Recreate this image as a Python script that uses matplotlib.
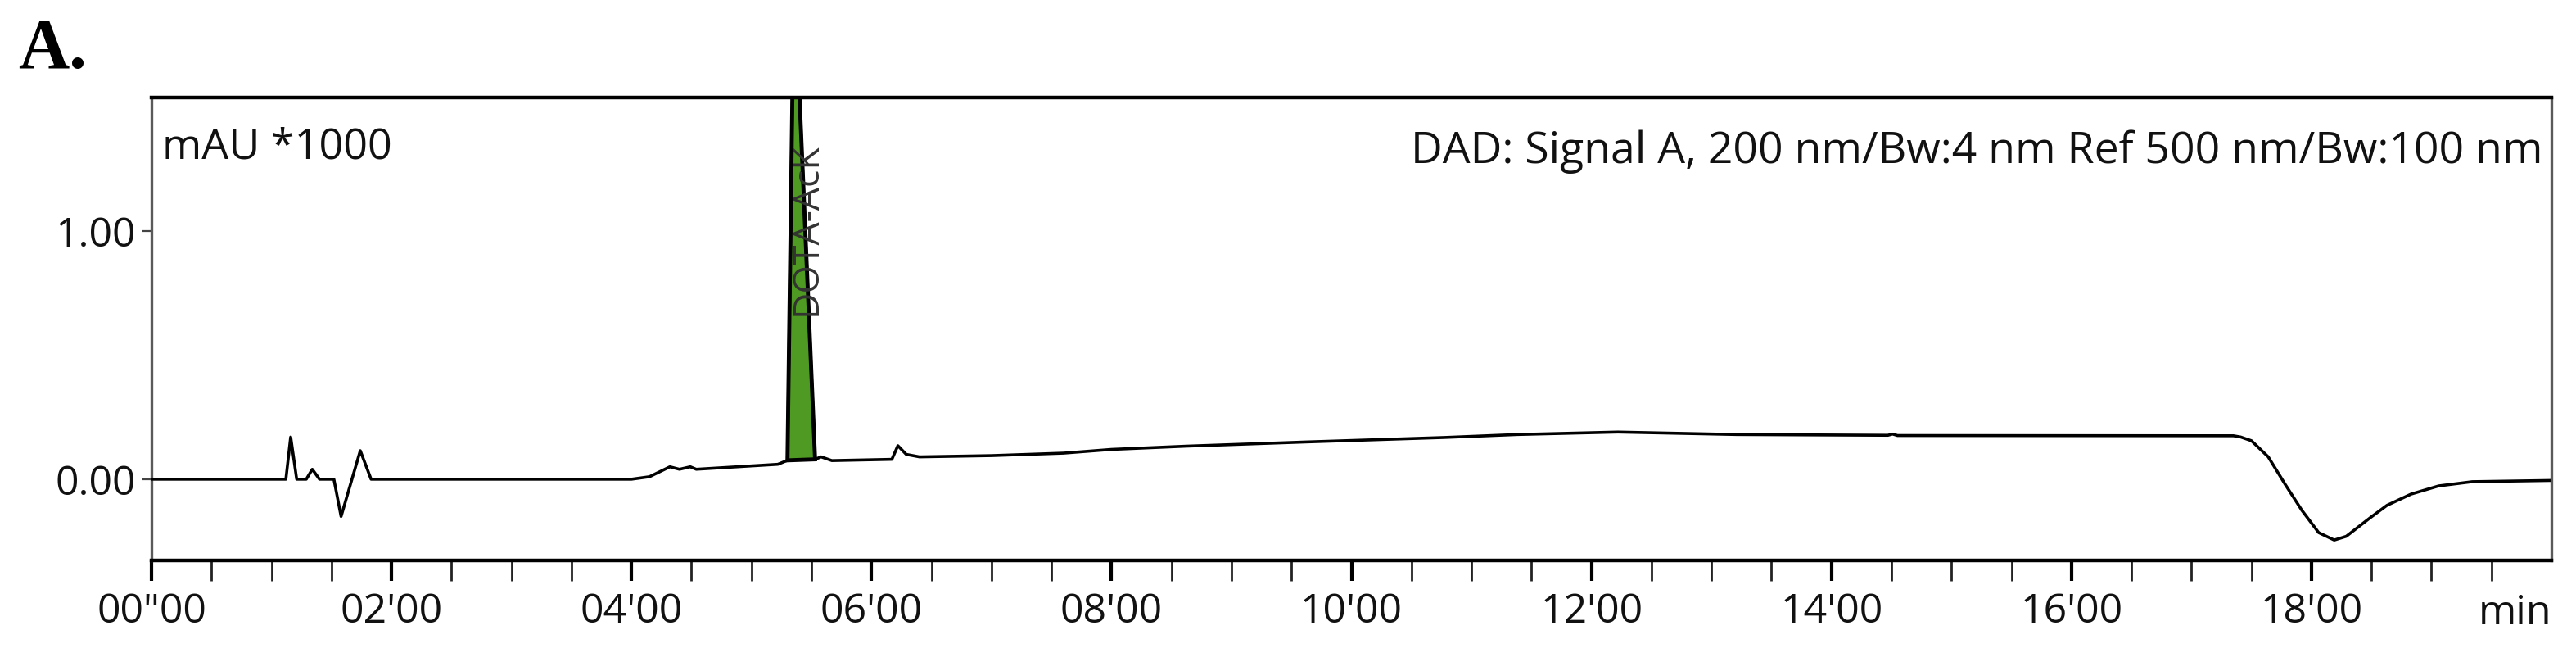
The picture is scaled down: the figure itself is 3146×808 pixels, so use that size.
import matplotlib
matplotlib.use("Agg")
import matplotlib.pyplot as plt
import matplotlib.transforms as mtransforms

# ---- data ----
time_min = [0.0, 1.12, 1.16, 1.21, 1.29, 1.34, 1.40, 1.52, 1.58, 1.74, 1.83,
            4.00, 4.15, 4.32, 4.40, 4.49, 4.54, 5.22, 5.30, 5.355, 5.53, 5.58,
            5.67, 6.17, 6.22, 6.29, 6.40, 7.00, 7.60, 8.00, 8.62, 9.62, 10.77, 11.38,
            12.22, 13.21, 14.47, 14.51, 14.55, 17.35, 17.41, 17.50, 17.64, 17.78,
            17.92, 18.06, 18.19, 18.29, 18.49, 18.63, 18.83, 19.06, 19.34, 20.0]
signal_mau_k = [0.0, 0.0, 0.17, 0.0, 0.0, 0.04, 0.0, 0.0, -0.15, 0.115, 0.0,
                0.0, 0.01, 0.05, 0.04, 0.05, 0.04, 0.06, 0.076, 2.05, 0.08, 0.09,
                0.075, 0.08, 0.135, 0.10, 0.09, 0.095, 0.105, 0.12, 0.133, 0.15, 0.168, 0.18,
                0.19, 0.18, 0.177, 0.182, 0.176, 0.175, 0.17, 0.155, 0.09, -0.02,
                -0.125, -0.215, -0.245, -0.23, -0.155, -0.105, -0.06, -0.027, -0.01, -0.005]
peak_start, peak_end = 5.30, 5.53
peak_label = "DOTA-AcK"
peak_label_pos = (5.46, 0.66)

x_major = [0, 2, 4, 6, 8, 10, 12, 14, 16, 18]
x_labels = ['00"00', "02'00", "04'00", "06'00", "08'00", "10'00", "12'00",
            "14'00", "16'00", "18'00"]
x_minor = [v / 2 for v in range(0, 40) if v % 4 != 0]
y_ticks = [0.0, 1.0]
y_labels = ["0.00", "1.00"]

FONT = "Open Sans"
FS = 36
W, H = 3146, 808
fig = plt.figure(figsize=(W / 100, H / 100), dpi=100)
ax = fig.add_axes([185 / W, 1 - 684 / H, (3116 - 185) / W, (684 - 119) / H])

ax.plot(time_min, signal_mau_k, color="black", lw=2.6, solid_joinstyle="round", zorder=3)

# filled integrated peak
pk_t = [t for t in time_min if peak_start <= t <= peak_end]
pk_y = [y for t, y in zip(time_min, signal_mau_k) if peak_start <= t <= peak_end]
ax.fill(pk_t, pk_y, facecolor="#4f9a22", edgecolor="black", lw=3.5, zorder=2)

ax.set_xlim(0, 20)
ax.set_ylim(-0.327, 1.537)

ax.set_xticks(x_major)
ax.set_xticklabels(x_labels, fontfamily=FONT, fontsize=FS, color="#111111")
ax.set_xticks(x_minor, minor=True)
ax.tick_params(axis="x", which="major", direction="out", length=18, width=3,
               color="black", pad=10)
ax.tick_params(axis="x", which="minor", direction="out", length=18, width=2,
               color="#222222")
ax.set_yticks(y_ticks)
ax.set_yticklabels(y_labels, fontfamily=FONT, fontsize=FS, color="#111111")
ax.tick_params(axis="y", direction="out", length=8, width=1.6, color="#444444", pad=6)

for side in ("top", "bottom"):
    ax.spines[side].set_linewidth(3.2)
    ax.spines[side].set_color("black")
for side in ("left", "right"):
    ax.spines[side].set_linewidth(2.4)
    ax.spines[side].set_color("#5a5a5a")

ax.text(0.0045, 0.868, "mAU *1000", transform=ax.transAxes, ha="left", va="baseline",
        fontfamily=FONT, fontsize=37.5, color="#111111")
ax.text(0.9965, 0.858, "DAD: Signal A, 200 nm/Bw:4 nm Ref 500 nm/Bw:100 nm",
        transform=ax.transAxes, ha="right", va="baseline",
        fontfamily=FONT, fontsize=38.5, color="#111111")
ax.text(peak_label_pos[0], peak_label_pos[1], peak_label, rotation=90,
        ha="center", va="bottom", fontfamily=FONT, fontsize=32, color="#333333",
        zorder=4)

trans = mtransforms.blended_transform_factory(ax.transData, fig.transFigure)
ax.text(20, 1 - 762 / H, "min", transform=trans, ha="right", va="baseline",
        fontfamily=FONT, fontsize=FS, color="#111111")

fig.text(22 / W, 1 - 83 / H, "A.", ha="left", va="baseline",
         fontfamily="Liberation Serif", fontweight="bold", fontsize=62, color="black")

fig.savefig("out.png", dpi=100, facecolor="white")
